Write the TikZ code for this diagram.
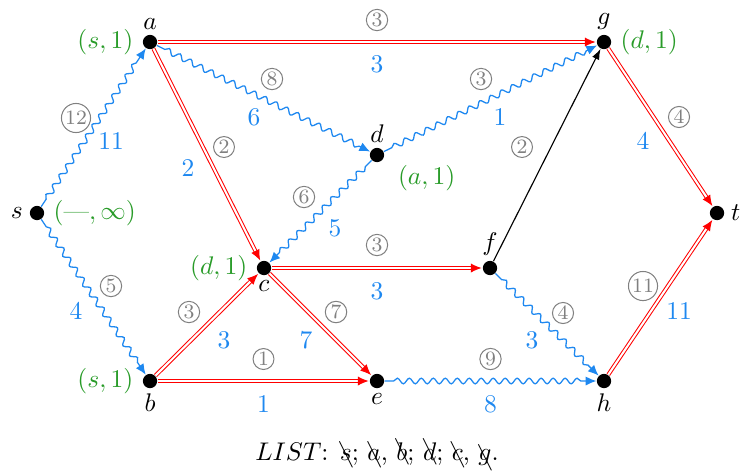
\documentclass[tikz,border=0pt]{standalone}
\usepackage{cancel}
\usetikzlibrary{arrows.meta,decorations.pathmorphing}
\definecolor{myblue}{RGB}{30,136,240}
\definecolor{mygreen}{RGB}{40,155,40}
\begin{document}
\begin{tikzpicture}[x=0.3922pt,y=-0.3922pt,
 vtx/.style={circle,fill=black,inner sep=0pt,minimum size=5.6pt},
 circ/.style={circle,draw=gray,text=gray,font=\footnotesize,inner sep=0.5pt,line width=0.4pt},
 wt/.style={text=myblue},
 lab/.style={text=mygreen},
 tree/.style={draw=red,double=white,double distance=0.8pt,line width=0.4pt,-{Latex[length=4.2pt,width=3.6pt]},shorten >=0.3pt},
 wavy/.style={draw=myblue,line width=0.5pt,-{Latex[length=4.2pt,width=3.6pt]},decorate,decoration={snake,segment length=4.7pt,amplitude=1.1pt,pre length=3.5pt,post length=4.5pt}},
 thinarrow/.style={draw=black,line width=0.45pt,-{Latex[length=4.2pt,width=3pt]}}
]
\useasboundingbox (0,0) rectangle (743,475);

\node[vtx,label={[label distance=-1pt]left:$s$},label={[lab,label distance=0pt]right:$(\mbox{---},\infty)$}] (s) at (37,213) {};
\node[vtx,label={[label distance=-1.5pt]above:$a$},label={[lab,label distance=0pt]left:$(s,1)$}] (a) at (150,42) {};
\node[vtx,label={[label distance=-1.5pt]below:$b$},label={[lab,label distance=0pt]left:$(s,1)$}] (b) at (150,381) {};
\node[vtx,label={[label distance=-1.5pt]below:$c$},label={[lab,label distance=0pt]left:$(d,1)$}] (c) at (264,268) {};
\node[vtx,label={[label distance=-1.5pt]above:$d$},label={[lab,label distance=-2pt,xshift=4pt]below right:$(a,1)$}] (d) at (377,155) {};
\node[vtx,label={[label distance=-1.5pt]below:$e$}] (e) at (377,381) {};
\node[vtx,label={[label distance=-1.5pt]above:$f$}] (f) at (490,268) {};
\node[vtx,label={[label distance=-1.5pt]above:$g$},label={[lab,label distance=0pt]right:$(d,1)$}] (g) at (604,42) {};
\node[vtx,label={[label distance=-1.5pt]below:$h$}] (h) at (604,381) {};
\node[vtx,label={[label distance=-1pt]right:$t$}] (t) at (717,213) {};

% blue wavy edges
\draw[wavy] (s) -- (a) node[circ,midway,shift={(-17.5,-9.5)}] {12} node[wt,midway,shift={(17.5,13.5)}] {11};
\draw[wavy] (s) -- (b) node[circ,midway,shift={(17.5,-11)}] {5} node[wt,midway,shift={(-17.5,14)}] {4};
\draw[wavy] (a) -- (d) node[circ,midway,shift={(8.5,-19.5)}] {8} node[wt,midway,shift={(-9.5,18.5)}] {6};
\draw[wavy] (d) -- (c) node[circ,midway,shift={(-16.5,-14.5)}] {6} node[wt,midway,shift={(14.5,16.5)}] {5};
\draw[wavy] (d) -- (g) node[circ,midway,shift={(-9.5,-19.5)}] {3} node[wt,midway,shift={(9.5,18.5)}] {1};
\draw[wavy] (f) -- (h) node[circ,midway,shift={(16,-11.5)}] {4} node[wt,midway,shift={(-15,15.5)}] {3};
\draw[wavy] (e) -- (h) node[circ,midway,shift={(0,-22)}] {9} node[wt,midway,shift={(0,23)}] {8};

% red tree edges
\draw[tree] (a) -- (g) node[circ,midway,shift={(0,-22)}] {3} node[wt,midway,shift={(0,22)}] {3};
\draw[tree] (a) -- (c) node[circ,midway,shift={(17,-8)}] {2} node[wt,midway,shift={(-19,13)}] {2};
\draw[tree] (b) -- (c) node[circ,midway,shift={(-18,-12.5)}] {3} node[wt,midway,shift={(17,15.5)}] {3};
\draw[tree] (b) -- (e) node[circ,midway,shift={(0,-22)}] {1} node[wt,midway,shift={(0,23)}] {1};
\draw[tree] (c) -- (f) node[circ,midway,shift={(0,-23)}] {3} node[wt,midway,shift={(0,23)}] {3};
\draw[tree] (c) -- (e) node[circ,midway,shift={(15.5,-12.5)}] {7} node[wt,midway,shift={(-14.5,15.5)}] {7};
\draw[tree] (g) -- (t) node[circ,midway,shift={(18.5,-10.5)}] {4} node[wt,midway,shift={(-17.5,13.5)}] {4};
\draw[tree] (h) -- (t) node[circ,midway,shift={(-17.5,-11)}] {11} node[wt,midway,shift={(18.5,14)}] {11};

% plain edge
\draw[thinarrow] (f) -- (g) node[circ,midway,shift={(-25,-8)}] {2};

\node (list) at (377,452) {$LIST$: $\bcancel{s}$; $\bcancel{a}$, $\bcancel{b}$; $\bcancel{d}$; $\bcancel{c}$, $\bcancel{g}$.};
\end{tikzpicture}
\end{document}
